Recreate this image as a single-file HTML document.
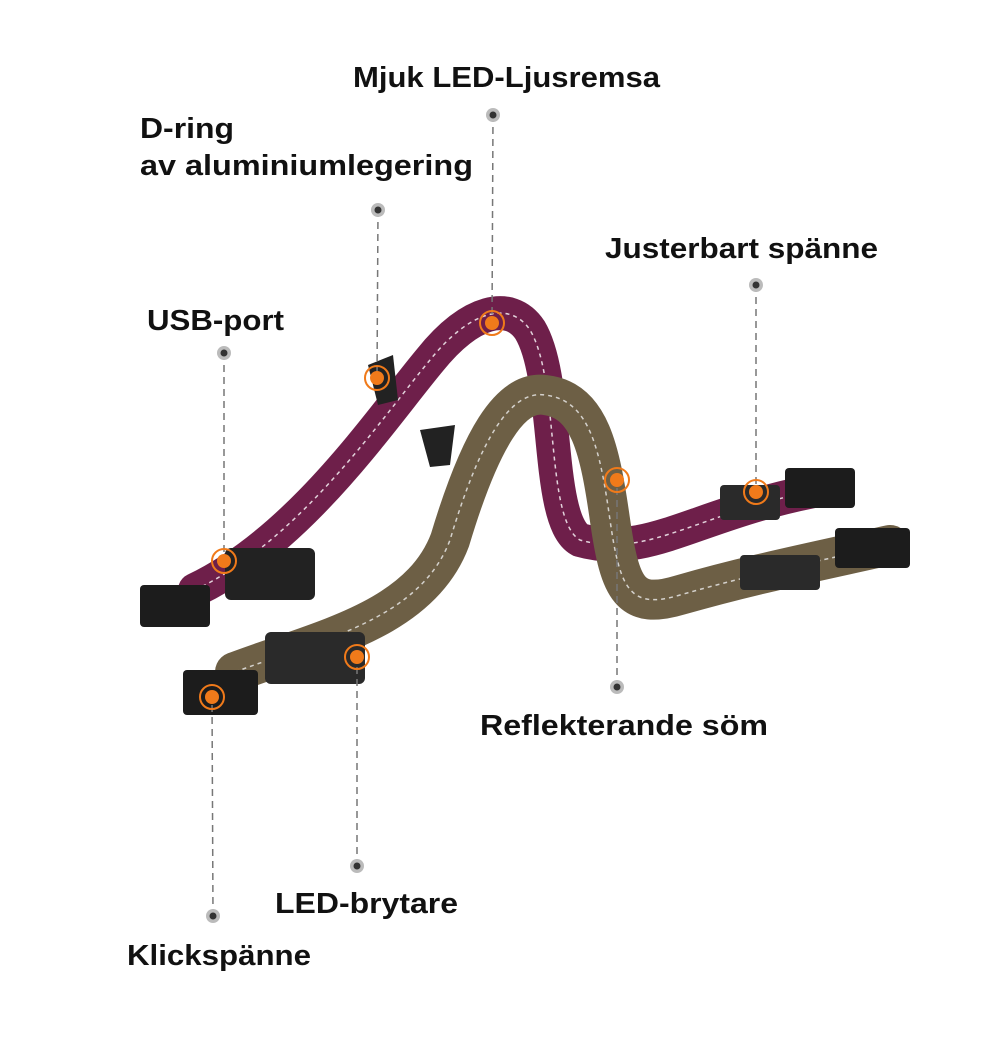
<!DOCTYPE html>
<html><head><meta charset="utf-8"><style>
html,body{margin:0;padding:0;background:#fff;}
svg{display:block}
text{font-family:"Liberation Sans",sans-serif;font-weight:bold;font-size:29px;fill:#111;}
</style></head><body>
<svg width="1000" height="1060" viewBox="0 0 1000 1060">
<path d="M195,590 C300,540 380,420 430,360 C470,310 510,300 530,330 C560,380 545,520 580,540 C650,560 700,510 830,488" fill="none" stroke="#6e1f4a" stroke-width="34" stroke-linecap="round"/>
<path d="M195,590 C300,540 380,420 430,360 C470,310 510,300 530,330 C560,380 545,520 580,540 C650,560 700,510 830,488" fill="none" stroke="#fff" stroke-width="1.5" stroke-dasharray="4 4" opacity=".8"/>
<path d="M235,672 C320,640 420,620 450,540 C480,440 510,390 545,395 C590,400 600,450 610,520 C620,590 630,610 680,595 C750,575 800,565 890,545" fill="none" stroke="#6d5f45" stroke-width="40" stroke-linecap="round"/>
<path d="M235,672 C320,640 420,620 450,540 C480,440 510,390 545,395 C590,400 600,450 610,520 C620,590 630,610 680,595 C750,575 800,565 890,545" fill="none" stroke="#eee" stroke-width="1.5" stroke-dasharray="4 4" opacity=".8"/>
<rect x="140" y="585" width="70" height="42" rx="4" fill="#1c1c1c"/>
<rect x="225" y="548" width="90" height="52" rx="6" fill="#222"/>
<rect x="183" y="670" width="75" height="45" rx="4" fill="#1c1c1c"/>
<rect x="265" y="632" width="100" height="52" rx="6" fill="#2a2a2a"/>
<rect x="785" y="468" width="70" height="40" rx="4" fill="#1c1c1c"/>
<rect x="720" y="485" width="60" height="35" rx="4" fill="#2a2a2a"/>
<rect x="835" y="528" width="75" height="40" rx="4" fill="#1c1c1c"/>
<rect x="740" y="555" width="80" height="35" rx="4" fill="#2a2a2a"/>
<path d="M368,365 l25,-10 l5,45 l-20,5z" fill="#222"/>
<path d="M420,430 l35,-5 l-5,40 l-20,2z" fill="#222"/>
<g stroke="#777" stroke-width="1.5" stroke-dasharray="7 5" fill="none">
<line x1="493" y1="115" x2="492" y2="323"/>
<line x1="378" y1="210" x2="377" y2="378"/>
<line x1="756" y1="285" x2="756" y2="492"/>
<line x1="224" y1="353" x2="224" y2="561"/>
<line x1="617" y1="687" x2="617" y2="480"/>
<line x1="357" y1="866" x2="357" y2="657"/>
<line x1="213" y1="916" x2="212" y2="697"/>
</g>
<g fill="#bbb"><circle cx="493" cy="115" r="7"/><circle cx="378" cy="210" r="7"/><circle cx="756" cy="285" r="7"/><circle cx="224" cy="353" r="7"/><circle cx="617" cy="687" r="7"/><circle cx="357" cy="866" r="7"/><circle cx="213" cy="916" r="7"/></g>
<g fill="#333"><circle cx="493" cy="115" r="3.5"/><circle cx="378" cy="210" r="3.5"/><circle cx="756" cy="285" r="3.5"/><circle cx="224" cy="353" r="3.5"/><circle cx="617" cy="687" r="3.5"/><circle cx="357" cy="866" r="3.5"/><circle cx="213" cy="916" r="3.5"/></g>
<g stroke="#f07a1a" stroke-width="2" fill="none"><circle cx="492" cy="323" r="12"/><circle cx="377" cy="378" r="12"/><circle cx="756" cy="492" r="12"/><circle cx="224" cy="561" r="12"/><circle cx="617" cy="480" r="12"/><circle cx="357" cy="657" r="12"/><circle cx="212" cy="697" r="12"/></g>
<g fill="#f07a1a"><circle cx="492" cy="323" r="7"/><circle cx="377" cy="378" r="7"/><circle cx="756" cy="492" r="7"/><circle cx="224" cy="561" r="7"/><circle cx="617" cy="480" r="7"/><circle cx="357" cy="657" r="7"/><circle cx="212" cy="697" r="7"/></g>
<text x="353" y="87" textLength="307" lengthAdjust="spacingAndGlyphs">Mjuk LED-Ljusremsa</text>
<text x="140" y="138" textLength="94" lengthAdjust="spacingAndGlyphs">D-ring</text>
<text x="140" y="175" textLength="333" lengthAdjust="spacingAndGlyphs">av aluminiumlegering</text>
<text x="605" y="258" textLength="273" lengthAdjust="spacingAndGlyphs">Justerbart spänne</text>
<text x="147" y="330" textLength="137" lengthAdjust="spacingAndGlyphs">USB-port</text>
<text x="480" y="735" textLength="288" lengthAdjust="spacingAndGlyphs">Reflekterande söm</text>
<text x="275" y="913" textLength="183" lengthAdjust="spacingAndGlyphs">LED-brytare</text>
<text x="127" y="965" textLength="184" lengthAdjust="spacingAndGlyphs">Klickspänne</text>
</svg>
</body></html>
